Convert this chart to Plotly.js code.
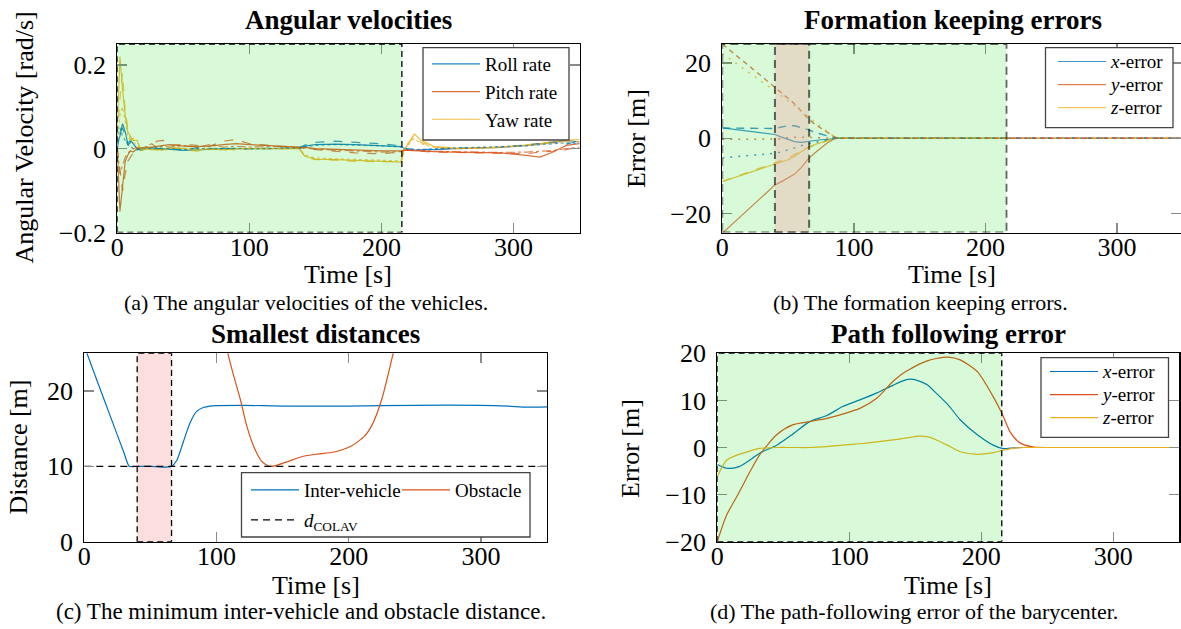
<!DOCTYPE html>
<html><head><meta charset="utf-8">
<script src="https://cdn.plot.ly/plotly-3.0.1.min.js"></script>
<style>html,body{margin:0;padding:0;background:#fff}#chart{width:1181px;height:629px}</style>
</head><body><div id="chart"></div>
<script>
// ---------- (a) Angular velocities ----------
const tA = [0,2,4,6,8,10,12,15,18,22,26,30,35,40,50,60,70,80,90,100,115,130,138,142,150,165,180,200,215,217,220,225,230,240,255,270,290,310,320,330,340,350];
const rollA = [0.01,0.03,0.06,0.04,0.012,0.02,0.012,0.0,-0.004,0.0,0.002,0.001,0.0,-0.002,-0.004,-0.003,-0.001,0.0,0.0,0.0,0.0,0.001,0.002,0.006,0.01,0.011,0.01,0.008,0.005,0.001,-0.002,-0.003,-0.003,-0.002,0.0,0.001,0.003,0.008,0.011,0.015,0.02,0.016];
const rollB = [0.0,0.04,0.05,0.03,0.008,0.015,0.004,-0.002,0.0,0.002,0.001,0.0,-0.002,0.0,-0.003,0.002,0.0,0.001,0.0,0.0,0.001,0.002,0.003,0.009,0.015,0.018,0.016,0.012,0.007,0.002,0.0,-0.002,-0.002,-0.001,0.0,0.002,0.004,0.009,0.013,0.016,0.011,0.019];
const rollC = [0.02,0.05,0.03,0.02,0.01,0.005,0.0,-0.003,0.002,0.001,0.0,0.002,0.001,-0.001,-0.002,0.0,0.001,0.0,0.001,0.0,0.0,0.001,0.001,0.005,0.008,0.01,0.009,0.007,0.004,0.0,-0.001,-0.002,-0.002,0.0,0.001,0.002,0.005,0.007,0.01,0.012,0.014,0.013];
const pitchA = [0.0,-0.15,-0.09,-0.03,-0.015,-0.005,-0.008,0.0,0.002,0.002,0.004,0.005,0.008,0.01,0.006,0.005,0.006,0.01,0.012,0.01,0.008,0.006,0.005,0.003,0.0,-0.002,-0.004,-0.005,-0.005,-0.003,-0.004,-0.005,-0.006,-0.007,-0.008,-0.009,-0.01,-0.016,-0.02,-0.008,0.008,0.012];
const pitchB = [0.0,-0.05,-0.1,-0.06,-0.03,-0.02,-0.01,0.0,0.002,0.004,0.006,0.018,0.02,0.008,0.01,0.008,0.006,0.018,0.022,0.012,0.008,0.004,0.002,0.0,-0.002,-0.006,-0.01,-0.012,-0.008,-0.004,-0.003,-0.004,-0.006,-0.008,-0.009,-0.01,-0.012,-0.012,-0.008,-0.006,-0.002,0.004];
const pitchC = [0.0,-0.06,-0.04,-0.02,-0.01,-0.005,0.0,0.003,0.0,0.005,0.012,0.003,0.006,0.004,0.008,0.003,0.01,0.004,0.006,0.004,0.005,0.004,0.003,0.002,-0.001,-0.003,-0.006,-0.008,-0.007,-0.003,-0.002,-0.003,-0.005,-0.006,-0.007,-0.008,-0.009,-0.008,-0.006,-0.004,0.0,0.003];
const yawA = [0.05,0.22,0.14,0.08,0.04,0.03,0.02,0.02,-0.005,0.0,-0.002,-0.002,-0.002,0.002,0.0,-0.004,0.0,-0.002,0.0,0.0,0.0,0.0,0.0,-0.018,-0.025,-0.026,-0.028,-0.03,-0.032,-0.005,0.01,0.035,0.02,0.005,0.002,0.001,0.003,0.008,0.012,0.016,0.02,0.022];
const yawB = [0.03,0.12,0.18,0.09,0.05,0.02,0.025,0.005,0.0,-0.002,0.0,-0.003,0.0,0.004,-0.002,-0.006,-0.002,0.0,-0.003,0.0,0.0,0.0,0.0,-0.02,-0.026,-0.027,-0.03,-0.031,-0.03,-0.003,0.012,0.03,0.015,0.004,0.0,0.001,0.004,0.009,0.013,0.017,0.019,0.018];
const yawC = [0.02,0.08,0.1,0.06,0.03,0.02,0.015,0.01,0.0,0.003,-0.004,0.0,-0.005,0.0,0.002,-0.003,0.001,-0.004,0.0,0.001,0.0,0.0,0.0,-0.015,-0.022,-0.024,-0.026,-0.028,-0.029,-0.004,0.008,0.025,0.012,0.003,0.0,0.002,0.004,0.007,0.01,0.013,0.016,0.017];

// ---------- (b) Formation keeping errors ----------
const tB = [0,10,20,30,40,45,50,55,60,65,70,75,80,85,88,95,120,200,300,350];
const exSolid  = [2.75,2.3,1.9,1.45,1.0,0.3,-0.4,-0.9,-1.1,-0.8,-0.6,-0.4,-0.3,-0.1,0,0,0,0,0,0];
const exDash   = [2.7,2.65,2.6,2.55,2.6,3.0,3.3,3.3,2.9,2.3,1.6,1.0,0.6,0.2,0,0,0,0,0,0];
const exDot    = [-5.2,-4.9,-4.6,-4.3,-4.0,-3.6,-3.0,-2.5,-2.0,-1.5,-1.1,-0.7,-0.4,-0.1,0,0,0,0,0,0];
const eySolid  = [-25.2,-22,-18.8,-15.6,-12.4,-11.5,-10.6,-9.5,-7.8,-5.6,-4.0,-2.5,-1.2,-0.2,0,0,0,0,0,0];
const eyDash   = [25,22.2,19.3,16.4,13.5,12.1,10.6,9.1,7.2,5.3,3.8,2.6,1.5,0.4,0,0,0,0,0,0];
const eyDot    = [-0.3,-0.3,-0.35,-0.35,-0.3,-0.2,0.2,0.3,0.3,0.2,0.1,0.1,0.05,0,0,0,0,0,0,0];
const ezSolid  = [-11.5,-10.3,-9.1,-7.9,-6.7,-6.3,-5.7,-4.8,-3.6,-2.4,-1.7,-1.1,-0.5,-0.1,0,0,0,0,0,0];
const ezDash   = [-11.4,-10.2,-9.0,-7.8,-6.5,-6.0,-5.3,-4.3,-3.2,-2.6,-1.9,-1.2,-0.6,-0.1,0,0,0,0,0,0];
const ezDot    = [22.5,20,17.5,15,12.7,11.3,10,8.6,7.3,6.0,4.5,3.0,1.7,0.5,0,0,0,0,0,0];

// ---------- (c) Smallest distances ----------
const tInter = [0,2,10,20,30,34,40,50,60,66,70,75,80,85,90,95,100,120,150,200,250,300,320,335,350];
const dInter = [26,25,21.2,16.5,11.8,10,10,10,9.9,10,10.8,13.3,15.8,17.3,17.8,18,18.05,18.1,18,18,18.1,18.1,18,17.85,17.9];
const tObst = [105,110,113,118,123,128,134,140,145,155,165,175,189,202,212,218,222,226,230,235];
const dObst = [27.5,24,22,18.9,15.3,12.7,10.7,10,10.1,10.7,11.3,11.6,11.9,12.7,14,15.6,17.3,19.5,22.3,26];
const tColav = [0,350];
const dColav = [10,10];

// ---------- (d) Path following error ----------
const tD = [0,7,16,25,32,45,57,70,83,95,108,121,133,141,147,153,159,166,175,184,197,209,216,222,227,232,240,260,350];
const pfX = [-3.6,-4.4,-4.1,-2.6,-1.2,0.5,2.8,5.5,6.8,8.7,10.1,11.6,13.2,14.2,14.5,14.1,13.3,11.5,9.0,5.9,2.7,0.5,-0.2,-0.15,-0.05,0,0,0,0];
const pfY = [-20,-14.4,-9.8,-5.0,-1.6,2.7,4.8,5.5,6.2,7.1,8.3,10.5,14.0,15.8,16.8,17.7,18.4,18.9,19.2,18.6,16.1,10.8,7.0,3.2,1.5,0.6,0.1,0,0];
const pfZ = [-6.2,-2.7,-1.5,-0.7,-0.2,0,0,0,0.2,0.5,0.8,1.2,1.6,1.95,2.2,2.4,2.3,1.6,0.4,-0.9,-1.45,-1.1,-0.6,-0.3,-0.1,0,0,0,0];

// ---------- labels ----------
const titles = ['Angular velocities','Formation keeping errors','Smallest distances','Path following error'];
const captions = ['(a) The angular velocities of the vehicles.','(b) The formation keeping errors.','(c) The minimum inter-vehicle and obstacle distance.','(d) The path-following error of the barycenter.'];
const xTitles = ['Time [s]','Time [s]','Time [s]','Time [s]'];
const yTitles = ['Angular Velocity [rad/s]','Error [m]','Distance [m]','Error [m]'];

const FONT = '"Liberation Serif", "Times New Roman", serif';
const BLUE = '#0072BD', ORANGE = '#D95319', YELLOW = '#EDB120';
const W = 1181, H = 629;
const px = v => v / W, py = v => 1 - v / H;

function tr(x, y, ax, color, dash, name, legend, show, opts) {
  return Object.assign({
    type: 'scatter', mode: 'lines', x: x, y: y, xaxis: ax[0], yaxis: ax[1],
    line: {color: color, width: 1.2, dash: dash}, name: name, legend: legend,
    showlegend: show, hoverinfo: 'skip'
  }, opts || {});
}
const A = ['x','y'], B = ['x2','y2'], C = ['x3','y3'], D = ['x4','y4'];
const big = s => '<span style="font-size:19px">' + s + '</span>';

const data = [
  tr(tA, rollA, A, BLUE, 'solid', 'Roll rate', 'legend', true, {opacity: 0.85}),
  tr(tA, pitchA, A, ORANGE, 'solid', 'Pitch rate', 'legend', true, {opacity: 0.85}),
  tr(tA, yawA, A, YELLOW, 'solid', 'Yaw rate', 'legend', true, {opacity: 0.85}),
  tr(tA, rollB, A, BLUE, 'dash', 'Roll rate 2', 'legend', false, {opacity: 0.75}),
  tr(tA, pitchB, A, ORANGE, 'dash', 'Pitch rate 2', 'legend', false, {opacity: 0.75}),
  tr(tA, yawB, A, YELLOW, 'dash', 'Yaw rate 2', 'legend', false, {opacity: 0.75}),
  tr(tA, rollC, A, BLUE, 'dot', 'Roll rate 3', 'legend', false, {opacity: 0.7}),
  tr(tA, pitchC, A, ORANGE, 'dashdot', 'Pitch rate 3', 'legend', false, {opacity: 0.7}),
  tr(tA, yawC, A, YELLOW, 'dot', 'Yaw rate 3', 'legend', false, {opacity: 0.7}),

  tr(tB, exSolid, B, BLUE, 'solid', big('<i>x</i>-error'), 'legend2', true, {opacity: 0.75}),
  tr(tB, eySolid, B, ORANGE, 'solid', big('<i>y</i>-error'), 'legend2', true, {opacity: 0.75}),
  tr(tB, ezSolid, B, YELLOW, 'solid', big('<i>z</i>-error'), 'legend2', true, {opacity: 0.75}),
  tr(tB, exDash, B, BLUE, 'dash', 'x2', 'legend2', false, {opacity: 0.75, line:{color:BLUE,width:1.4,dash:'8px,6px'}}),
  tr(tB, eyDash, B, ORANGE, 'dash', 'y2', 'legend2', false, {opacity: 0.75, line:{color:ORANGE,width:1.4,dash:'5px,4px'}}),
  tr(tB, ezDash, B, YELLOW, 'dash', 'z2', 'legend2', false, {opacity: 0.75}),
  tr(tB, exDot, B, BLUE, 'dot', 'x3', 'legend2', false, {opacity: 0.75, line:{color:BLUE,width:1.5,dash:'2px,6px'}}),
  tr(tB, eyDot, B, ORANGE, 'dot', 'y3', 'legend2', false, {opacity: 0.75, line:{color:ORANGE,width:1.5,dash:'2px,6px'}}),
  tr(tB, ezDot, B, YELLOW, 'dot', 'z3', 'legend2', false, {opacity: 0.75, line:{color:YELLOW,width:1.5,dash:'2px,6px'}}),

  tr(tInter, dInter, C, BLUE, 'solid', 'Inter-vehicle', 'legend3', true, {line:{color:BLUE,width:1.2,shape:'spline',smoothing:0.6}}),
  tr(tObst, dObst, C, ORANGE, 'solid', 'Obstacle', 'legend3', true, {line:{color:ORANGE,width:1.2,shape:'spline',smoothing:0.6}}),
  tr(tColav, dColav, C, '#000', 'dash', '<i>d</i><sub>COLAV</sub>', 'legend4', true, {line:{color:'#000',width:1.2,dash:'7px,5px'}}),

  tr(tD, pfX, D, BLUE, 'solid', big('<i>x</i>-error'), 'legend5', true, {line:{color:BLUE,width:1.2,shape:'spline',smoothing:0.7}}),
  tr(tD, pfY, D, ORANGE, 'solid', big('<i>y</i>-error'), 'legend5', true, {line:{color:ORANGE,width:1.2,shape:'spline',smoothing:0.7}}),
  tr(tD, pfZ, D, YELLOW, 'solid', big('<i>z</i>-error'), 'legend5', true, {line:{color:YELLOW,width:1.2,shape:'spline',smoothing:0.7}})
];

function xax(dom, rng, anchor) {
  return {domain: dom, range: rng, anchor: anchor, showline: true, linecolor: '#000', linewidth: 1.2,
    mirror: 'ticks', ticks: 'inside', ticklen: 10, tickwidth: 1.3, tickcolor: '#8a8a8a',
    showgrid: false, zeroline: false, tickvals: [0,100,200,300], ticktext: ['0','100','200','300'],
    ticklabelstandoff: -9,
    tickfont: {family: FONT, size: 26, color: '#000'}, fixedrange: true};
}
function yax(dom, rng, anchor, vals, text) {
  return {domain: dom, range: rng, anchor: anchor, showline: true, linecolor: '#000', linewidth: 1.2,
    mirror: 'ticks', ticks: 'inside', ticklen: 10, tickwidth: 1.3, tickcolor: '#8a8a8a',
    showgrid: false, zeroline: false, tickvals: vals, ticktext: text, ticklabelstandoff: 5,
    tickfont: {family: FONT, size: 26, color: '#000'}, fixedrange: true};
}

const GREEN = 'rgba(0,222,0,0.15)';
const shapes = [
  {type:'rect', xref:'x', yref:'y', x0:0, x1:215.5, y0:-0.2, y1:0.25, fillcolor:GREEN, line:{color:'#000',width:1.3,dash:'6px,4px'}, layer:'above'},
  {type:'rect', xref:'paper', yref:'paper', x0:px(423), x1:px(569), y0:py(140), y1:py(47.7), fillcolor:'#fff', line:{color:'#444',width:1.3}, layer:'above'},

  {type:'rect', xref:'x2', yref:'y2', x0:0, x1:216, y0:-25, y1:25, fillcolor:GREEN, line:{color:'rgba(0,0,0,0.6)',width:1.8,dash:'8px,5px'}, layer:'above'},
  {type:'rect', xref:'x2', yref:'y2', x0:40, x1:66, y0:-25, y1:25, fillcolor:'rgba(247,153,154,0.3)', line:{color:'rgba(0,0,0,0.6)',width:2,dash:'8px,5px'}, layer:'above'},
  {type:'rect', xref:'paper', yref:'paper', x0:px(1045.5), x1:px(1173), y0:py(127.7), y1:py(47.7), fillcolor:'#fff', line:{color:'#444',width:1.3}, layer:'above'},

  {type:'rect', xref:'x3', yref:'y3', x0:40, x1:66, y0:0, y1:25, fillcolor:'rgba(250,145,150,0.3)', line:{color:'#000',width:1.3,dash:'6px,4px'}, layer:'below'},
  {type:'rect', xref:'paper', yref:'paper', x0:px(241.5), x1:px(530), y0:py(537), y1:py(472.7), fillcolor:'#fff', line:{color:'#444',width:1.3}, layer:'above'},

  {type:'rect', xref:'x4', yref:'y4', x0:0, x1:215.5, y0:-20, y1:20, fillcolor:GREEN, line:{color:'#000',width:1.3,dash:'6px,4px'}, layer:'above'},
  {type:'rect', xref:'paper', yref:'paper', x0:px(1041), x1:px(1168.5), y0:py(437.3), y1:py(357.7), fillcolor:'#fff', line:{color:'#444',width:1.3}, layer:'above'}
];

const titlePos = [[348,20],[952.5,20],[315.6,334],[948.3,334]];
const capPos = [[306,302],[920,302],[301,611],[914,611]];
const capSize = [22,22,23,22];
const xtPos = [[348,275],[952,275],[315.6,585],[948,585]];
const ytPos = [[23.5,138],[636,139],[18,447.5],[631,449]];
const annotations = [];
titles.forEach((t,i) => annotations.push({text:'<b>'+t+'</b>', xref:'paper', yref:'paper', x:px(titlePos[i][0]), y:py(titlePos[i][1]), xanchor:'center', yanchor:'middle', showarrow:false, font:{family:FONT,size:27,color:'#000'}}));
captions.forEach((t,i) => annotations.push({text:t, xref:'paper', yref:'paper', x:px(capPos[i][0]), y:py(capPos[i][1]), xanchor:'center', yanchor:'middle', showarrow:false, font:{family:FONT,size:capSize[i],color:'#000'}}));
xTitles.forEach((t,i) => annotations.push({text:t, xref:'paper', yref:'paper', x:px(xtPos[i][0]), y:py(xtPos[i][1]), xanchor:'center', yanchor:'middle', showarrow:false, font:{family:FONT,size:26,color:'#000'}}));
yTitles.forEach((t,i) => annotations.push({text:t, xref:'paper', yref:'paper', x:px(ytPos[i][0]), y:py(ytPos[i][1]), xanchor:'center', yanchor:'middle', textangle:-90, showarrow:false, font:{family:FONT,size:26,color:'#000'}}));

const legBase = {bgcolor:'rgba(0,0,0,0)', borderwidth:0, xanchor:'left', yanchor:'top', tracegroupgap:0, itemwidth:48};
const layout = {
  width: W, height: H, margin: {l:0, r:0, t:0, b:0}, autosize: false,
  paper_bgcolor: '#fff', plot_bgcolor: '#fff',
  font: {family: FONT, color: '#000'},
  xaxis:  xax([px(117.3), px(579.5)], [0,350], 'y'),
  yaxis:  yax([py(232.5), py(44)], [-0.2,0.25], 'x', [-0.2,0,0.2], ['\u22120.2','0','0.2']),
  xaxis2: xax([px(722.3), 1], [0,348.6], 'y2'),
  yaxis2: yax([py(232.5), py(44)], [-25,25], 'x2', [-20,0,20], ['\u221220','0','20']),
  xaxis3: xax([px(84.3), px(547)], [0,350], 'y3'),
  yaxis3: yax([py(541.7), py(353.3)], [0,25], 'x3', [0,10,20], ['0','10','20']),
  xaxis4: xax([px(717.3), px(1179.3)], [0,350], 'y4'),
  yaxis4: yax([py(541.7), py(353.3)], [-20,20], 'x4', [-20,-10,0,10,20], ['\u221220','\u221210','0','10','20']),
  legend:  Object.assign({}, legBase, {x:px(427), y:py(45), font:{family:FONT,size:19,color:'#000'}}),
  legend2: Object.assign({}, legBase, {x:px(1053), y:py(45), font:{family:FONT,size:15.4,color:'#000'}}),
  legend3: Object.assign({}, legBase, {x:px(246), y:py(471), orientation:'h', entrywidth:88, font:{family:FONT,size:19,color:'#000'}}),
  legend4: Object.assign({}, legBase, {x:px(246), y:py(501), font:{family:FONT,size:19,color:'#000'}}),
  legend5: Object.assign({}, legBase, {x:px(1045), y:py(355), font:{family:FONT,size:15.4,color:'#000'}}),
  shapes: shapes,
  annotations: annotations,
  showlegend: true
};

Plotly.newPlot('chart', data, layout, {displayModeBar: false, staticPlot: true});
</script></body></html>
